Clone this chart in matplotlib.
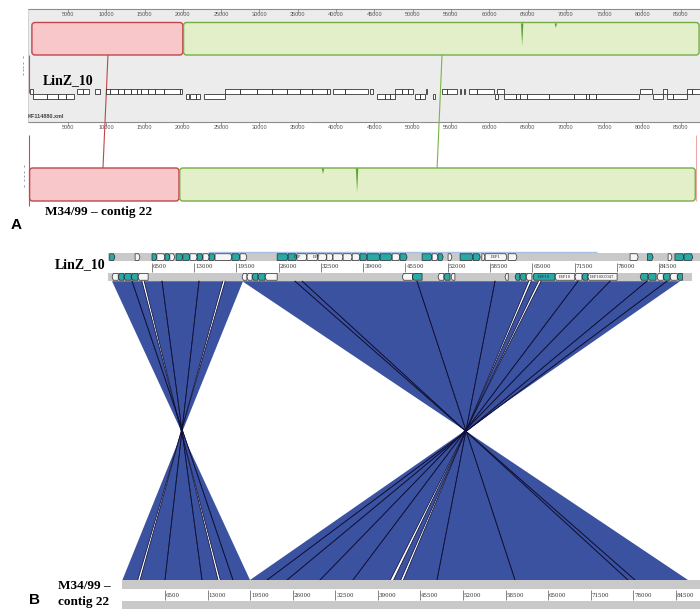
import matplotlib
matplotlib.use("Agg")
import matplotlib.pyplot as plt
from matplotlib.patches import FancyBboxPatch, Polygon, Rectangle

W, H = 700, 609
fig = plt.figure(figsize=(7, 6.09), dpi=100)

def fx(x):
    return x / W

def fy(y):
    return 1 - y / H

# ======================= DATA =======================
# ---- Panel A (Mauve view), positions in bp ----
a_ticks = [5000, 10000, 15000, 20000, 25000, 30000, 35000, 40000, 45000,
           50000, 55000, 60000, 65000, 70000, 75000, 80000, 85000]
a_top_block_start = [300, 20100]
a_top_block_end = [20000, 87400]
a_bot_block_start = [0, 19600]
a_bot_block_end = [19500, 86900]
block_fill = ['#f8c7ca', '#e3efc9']
block_edge = ['#c2454b', '#74ad45']
a_link_top = [10230, 53840]
a_link_bot = [9580, 53200]
link_color = ['#c2454b', '#7ab648']
a_top_spike_pos = [64300, 68700]
a_top_spike_depth = [0.75, 0.15]
a_bot_spike_pos = [42750, 38300]
a_bot_spike_depth = [0.78, 0.18]

a_fwd_start = [0, 6190, 6970, 8530, 9970, 10490, 11540, 12320, 13230, 14020,
               14540, 15450, 16370, 17540, 19630, 25500, 27460, 29680, 31640,
               33590, 35290, 36860, 38820, 39600, 41160, 44420, 47690, 48600,
               49390, 51730, 53820, 54470, 56170, 56690, 57350, 58390, 61000,
               79650, 82650, 85800, 86450]
a_fwd_end = [450, 6970, 7750, 9190, 10490, 11540, 12320, 13230, 14020, 14540,
             15450, 16370, 17540, 19630, 19890, 27460, 29680, 31640, 33590,
             35290, 36860, 38820, 39210, 41160, 44160, 44810, 48600, 49390,
             50040, 51860, 54470, 55780, 56300, 56820, 58390, 60610, 61910,
             81220, 83170, 86450, 87490]
a_rev_start = [440, 2270, 3710, 4750, 20410, 20930, 21720, 22760, 45340, 46380,
               47040, 50300, 50950, 52650, 60740, 61910, 63480, 64000, 64910,
               67780, 71050, 72610, 73000, 73920, 81350, 83170, 83950]
a_rev_end = [2270, 3710, 4750, 5790, 20800, 21720, 22240, 25500, 46380, 47040,
             47690, 50950, 51600, 52910, 61130, 63480, 64000, 64910, 67780,
             71050, 72610, 73000, 73920, 79520, 82650, 83950, 85800]

# ---- Panel B (comparison view), positions in bp ----
b_ticks = [6500, 13000, 19500, 26000, 32500, 39000, 45500, 52000, 58500,
           65000, 71500, 78000, 84500]
b_fwd_start = [0, 3900, 6500, 7250, 8500, 9250, 10200, 11250, 12350, 13450,
               14350, 15300, 16200, 18800, 20050, 25750, 27450, 28800, 30350,
               32050, 33400, 34350, 35900, 37300, 38500, 39600, 41600, 43450,
               44650, 48050, 49600, 50500, 52050, 53900, 55900, 57250, 57750,
               61300, 80050, 82700, 85900, 86950, 88350]
b_fwd_end = [800, 4650, 7250, 8500, 9250, 10000, 11250, 12350, 13450, 14350,
             15300, 16200, 18800, 20050, 21100, 27450, 28800, 30350, 32050,
             33400, 34350, 35900, 37300, 38500, 39600, 41600, 43450, 44650,
             45750, 49600, 50500, 51300, 52650, 55900, 57000, 57750, 61100,
             62650, 81300, 83600, 86500, 88350, 89700]
b_fwd_teal = [1, 0, 1, 0, 1, 0, 1, 1, 0, 1, 0, 1, 0, 1, 0, 1, 1, 0, 0, 0, 0, 0,
              0, 0, 1, 1, 1, 0, 1, 1, 0, 1, 0, 1, 1, 0, 0, 0, 0, 1, 0, 1, 1]
b_rev_start = [350, 1300, 2200, 3300, 4350, 20350, 21100, 21900, 22800, 23900,
               45000, 46550, 50500, 51400, 52500, 60800, 62350, 63100, 64050,
               65100, 68500, 71550, 72650, 73550, 81600, 82800, 84200, 85150,
               86200, 87300]
b_rev_end = [1300, 2200, 3300, 4350, 5900, 21100, 21900, 22800, 23900, 25750,
             46550, 48050, 51400, 52350, 53100, 61300, 63100, 64050, 64950,
             68500, 71550, 72650, 73550, 78050, 82800, 84050, 85150, 86200,
             87300, 88100]
b_rev_teal = [0, 1, 1, 1, 0, 0, 0, 1, 1, 0, 0, 1, 0, 1, 0, 0, 1, 1, 0, 1, 0, 0,
              1, 0, 1, 1, 0, 1, 0, 1]
b_gene_labels = [(57750, 61100, 'LEP1', 1), (65100, 68500, 'LEP10', -1),
                 (68500, 71550, 'LEP10', -1), (73550, 78050, 'LEP10SC047', -1),
                 (27450, 30350, 'LEP', 1), (30350, 33400, 'LEP', 1)]

# matched segments (inverted): LinZ_10 range -> M34/99 range
left_top_start = [350, 3430, 5300, 8040, 13730, 17750]
left_top_end = [3430, 4950, 8040, 13730, 17400, 20500]
left_bot_start = [16880, 14950, 12150, 6500, 2700, 0]
left_bot_end = [19480, 16880, 14600, 12150, 6500, 2350]

right_top_start = [20380, 28500, 29600, 47270, 59270, 64850, 66350, 72040,
                   76960, 82650, 85730]
right_top_end = [28500, 29600, 47270, 59270, 64450, 65950, 72040, 76960,
                 82650, 85730, 87760]
right_bot_start = [78260, 77190, 59940, 48030, 42900, 41400, 35200, 30170,
                   25130, 22080, 19480]
right_bot_end = [86350, 78260, 77190, 59940, 48030, 42500, 40900, 35200,
                 30170, 25130, 22080]

# ======================= PANEL A =======================
A_X0, A_SC = 29.6, 0.00766
axA = fig.add_axes([0, fy(232), 1, 232 / H])
axA.set_xlim(-A_X0 / A_SC, (W - A_X0) / A_SC)
axA.set_ylim(232, 0)
axA.axis('off')
xmin_a, xmax_a = axA.get_xlim()
left_a = -1.6 / A_SC

axA.add_patch(Rectangle((left_a, 9), xmax_a - left_a, 113, facecolor='#ececec',
                        edgecolor='none', zorder=0))
axA.vlines(left_a, 9, 122, color='#cfcfcf', lw=0.6, zorder=1)

for yl in (9, 122):
    axA.hlines(yl, left_a, xmax_a, color='#8c8c8c', lw=0.8, zorder=2)
    for t in a_ticks:
        axA.vlines(t, yl, yl + 3.5, color='#777777', lw=0.5, zorder=2)
        axA.text(t, yl + 5.5, str(t), ha='center', va='center', fontsize=4.0,
                 color='#555555', family='Liberation Sans', zorder=3)

def rounded_block(ax, s, e, y0, hgt, fc, ec):
    r = 3.0 / A_SC
    p = FancyBboxPatch((s, y0), e - s, hgt,
                       boxstyle=f"round,pad=0,rounding_size={r}",
                       mutation_aspect=A_SC, facecolor=fc, edgecolor=ec,
                       lw=1.0, zorder=4)
    ax.add_patch(p)

for i in range(2):
    rounded_block(axA, a_top_block_start[i], a_top_block_end[i], 22.5, 32.5,
                  block_fill[i], block_edge[i])
    rounded_block(axA, a_bot_block_start[i], a_bot_block_end[i], 168, 33,
                  block_fill[i], block_edge[i])

def spike(ax, pos, top, depth, hgt):
    w = 1.3 / A_SC
    tip = top + depth * hgt
    ax.add_patch(Polygon([(pos - w, top), (pos + w, top), (pos, tip)],
                         closed=True, facecolor='#7cb850', edgecolor='none',
                         alpha=0.9, zorder=5))
    ax.add_patch(Polygon([(pos - w * 0.35, top), (pos + w * 0.35, top),
                          (pos, top + (tip - top) * 0.8)], closed=True,
                         facecolor='#2f7a1a', edgecolor='none', zorder=6))

for p, d in zip(a_top_spike_pos, a_top_spike_depth):
    spike(axA, p, 23.5, d, 31)
for p, d in zip(a_bot_spike_pos, a_bot_spike_depth):
    spike(axA, p, 168.5, d, 32)

for i in range(2):
    axA.plot([a_link_top[i], a_link_bot[i]], [55, 168], color=link_color[i],
             lw=0.8, zorder=3)

axA.vlines(left_a + 130, 55, 93, color='#d04a4a', lw=0.8, zorder=3)
axA.vlines(left_a + 130, 135, 206, color='#d04a4a', lw=0.8, zorder=3)
axA.vlines(87050, 135, 201, color='#f0a8a8', lw=0.8, zorder=3)

for yy in (57, 63, 67, 70, 74):
    axA.vlines(left_a - 5.5 / A_SC, yy - 0.8, yy + 0.8, color='#9a9ab8',
               lw=0.7, zorder=3)
for yy in (166, 172, 176, 180, 186):
    axA.vlines(left_a - 4.5 / A_SC, yy - 0.8, yy + 0.8, color='#9a9ab8',
               lw=0.7, zorder=3)

for s, e in zip(a_fwd_start, a_fwd_end):
    axA.add_patch(Rectangle((s, 89), e - s, 4.5, facecolor='white',
                            edgecolor='#222222', lw=0.55, zorder=4))
for s, e in zip(a_rev_start, a_rev_end):
    axA.add_patch(Rectangle((s, 93.5), e - s, 5, facecolor='white',
                            edgecolor='#222222', lw=0.55, zorder=4))

fig.text(fx(43), fy(81), 'LinZ_10', fontsize=10, fontweight='bold',
         family='Liberation Serif', va='center', ha='left')
fig.text(fx(28), fy(116.5), 'KF114880.xml', fontsize=4.0, fontweight='bold',
         family='Liberation Sans', color='#444444', va='center', ha='left')
fig.text(fx(45), fy(212), 'M34/99 \u2013 contig 22', fontsize=9.5,
         fontweight='bold', family='Liberation Serif', va='center', ha='left')
fig.text(fx(11), fy(225), 'A', fontsize=11, fontweight='bold',
         family='Liberation Sans', va='center', ha='left')

# ======================= PANEL B =======================
BT_X0, BT_SC = 109.75, 0.0065
BB_X0, BB_SC = 122.4, 0.00655
pos_b = [0, 0, 1, (H - 236) / H]
axT = fig.add_axes(pos_b)
axT.set_xlim(-BT_X0 / BT_SC, (W - BT_X0) / BT_SC)
axT.set_ylim(H, 236)
axT.axis('off')
axB = fig.add_axes(pos_b)
axB.set_xlim(-BB_X0 / BB_SC, (W - BB_X0) / BB_SC)
axB.set_ylim(H, 236)
axB.axis('off')
axB.patch.set_alpha(0)

xmaxT = axT.get_xlim()[1]
xmaxB = axB.get_xlim()[1]

axT.hlines(252.3, 15100, 74960, color='#a8c2e6', lw=1.0, zorder=2)
axT.add_patch(Rectangle((-270, 253), xmaxT + 270, 8, facecolor='#c9c9c9',
                        edgecolor='none', zorder=1))
axT.add_patch(Rectangle((-270, 272.5), 89600 + 270, 8.5, facecolor='#c9c9c9',
                        edgecolor='none', zorder=1))
for t in b_ticks:
    axT.vlines(t, 262.5, 272, color='#555555', lw=0.5, zorder=2)
    axT.text(t + 140, 266.8, str(t), ha='left', va='center', fontsize=4.0,
             family='DejaVu Serif', color='#333333', zorder=3)

def gene_poly(ax, s, e, y0, y1, strand, teal):
    tip = min(200, (e - s) * 0.45)
    ym = (y0 + y1) / 2
    if strand > 0:
        pts = [(s, y0), (e - tip, y0), (e, ym), (e - tip, y1), (s, y1)]
    else:
        pts = [(e, y0), (s + tip, y0), (s, ym), (s + tip, y1), (e, y1)]
    ax.add_patch(Polygon(pts, closed=True,
                         facecolor='#2aa8a6' if teal else '#f6f6f6',
                         edgecolor='#1a1a1a', lw=0.45, zorder=3))

for s, e, tl in zip(b_fwd_start, b_fwd_end, b_fwd_teal):
    gene_poly(axT, s, e, 253.8, 260.4, 1, tl)
for s, e, tl in zip(b_rev_start, b_rev_end, b_rev_teal):
    gene_poly(axT, s, e, 273.5, 280.2, -1, tl)
for s, e, lab, st in b_gene_labels:
    yy = 257.1 if st > 0 else 276.9
    axT.text((s + e) / 2, yy, lab, fontsize=2.6, ha='center', va='center',
             family='DejaVu Serif', color='#222222', zorder=4)

fig.text(fx(55), fy(265), 'LinZ_10', fontsize=10, fontweight='bold',
         family='Liberation Serif', va='center', ha='left')

axB.add_patch(Rectangle((0, 580), xmaxB, 9, facecolor='#c9c9c9',
                        edgecolor='none', zorder=1))
axB.add_patch(Rectangle((0, 601), xmaxB, 9, facecolor='#c9c9c9',
                        edgecolor='none', zorder=1))
for t in b_ticks:
    axB.vlines(t, 589.5, 600, color='#555555', lw=0.5, zorder=2)
    axB.text(t + 140, 595.5, str(t), ha='left', va='center', fontsize=4.0,
             family='DejaVu Serif', color='#333333', zorder=3)

fig.text(fx(58), fy(586), 'M34/99 \u2013', fontsize=9.5, fontweight='bold',
         family='Liberation Serif', va='center', ha='left')
fig.text(fx(58), fy(602), 'contig 22', fontsize=9.5, fontweight='bold',
         family='Liberation Serif', va='center', ha='left')
fig.text(fx(29), fy(600), 'B', fontsize=11, fontweight='bold',
         family='Liberation Sans', va='center', ha='left')

Y_TOP, Y_BOT = 281.2, 580

def bot_to_top(v):
    disp = axB.transData.transform((v, Y_BOT))
    return axT.transData.inverted().transform(disp)[0]

RIB = '#3b52a1'
LINE = '#101038'

def draw_group(ts, te, bs, be):
    n = len(ts)
    for i in range(n):
        c = bot_to_top(bs[i])
        d = bot_to_top(be[i])
        pts = [(ts[i], Y_TOP), (te[i], Y_TOP), (c, Y_BOT), (d, Y_BOT)]
        axT.add_patch(Polygon(pts, closed=True, facecolor=RIB,
                              edgecolor='none', zorder=2))
    for i in range(n):
        c = bot_to_top(bs[i])
        d = bot_to_top(be[i])
        if i < n - 1:
            axT.plot([te[i], c], [Y_TOP, Y_BOT], color=LINE, lw=0.55, zorder=3)
        if i > 0:
            axT.plot([ts[i], d], [Y_TOP, Y_BOT], color=LINE, lw=0.55, zorder=3)

draw_group(left_top_start, left_top_end, left_bot_start, left_bot_end)
draw_group(right_top_start, right_top_end, right_bot_start, right_bot_end)

fig.savefig('out.png', dpi=100)
